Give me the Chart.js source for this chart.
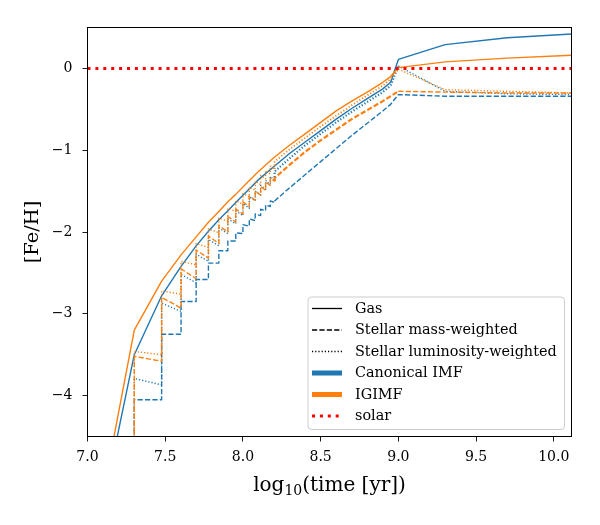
<!DOCTYPE html>
<html><head><meta charset="utf-8">
<script src="https://cdn.jsdelivr.net/npm/chart.js@4.4.1/dist/chart.umd.min.js"></script>
<style>html,body{margin:0;padding:0;background:#fff}canvas{display:block}</style>
</head><body>
<canvas id="c" width="600" height="525"></canvas>
<script>
// ---- axis ranges and ticks ----
const xRange = [7.0, 10.114];
const yRange = [-4.5, 0.5];
const xTicks = [7.0, 7.5, 8.0, 8.5, 9.0, 9.5, 10.0];
const yTicks = [-4, -3, -2, -1, 0];

// ---- gas metallicity ----
const gasTimes     = [7.0, 7.301, 7.477, 7.602, 7.699, 7.778, 7.845, 7.903, 7.954, 8.0, 8.1, 8.2, 8.3, 8.4, 8.5, 8.6, 8.7, 8.8, 8.9, 8.95, 9.0, 9.301, 9.7, 10.114];
const gasCanonical = [-6.25, -3.50, -2.78, -2.42, -2.17, -1.99, -1.85, -1.74, -1.64, -1.55, -1.36, -1.20, -1.04, -0.90, -0.76, -0.62, -0.49, -0.37, -0.25, -0.17, 0.11, 0.29, 0.375, 0.42];
const gasIGIMF     = [-6.2, -3.20, -2.60, -2.28, -2.06, -1.88, -1.75, -1.63, -1.54, -1.45, -1.26, -1.09, -0.94, -0.80, -0.66, -0.52, -0.40, -0.29, -0.17, -0.10, 0.01, 0.08, 0.125, 0.16];

// ---- stellar metallicity: early time steps (value at start and end of each step) ----
const stepTimes = [7.301, 7.477, 7.602, 7.699, 7.778, 7.845, 7.903, 7.954, 8.000, 8.041, 8.079, 8.114, 8.146, 8.176, 8.204];
const stellarFloor = -6.0;
const lateTimes = [8.204, 8.3, 8.4, 8.5, 8.6, 8.7, 8.8, 8.9, 8.95, 9.0, 9.301, 9.7, 10.114];

const massCanonicalStart = [-4.05, -3.25, -2.85, -2.58, -2.38, -2.23, -2.11, -2.01, -1.91, -1.84, -1.78, -1.72, -1.67, -1.62];
const massCanonicalEnd   = [-4.05, -3.25, -2.85, -2.58, -2.38, -2.23, -2.11, -2.02, -1.93, -1.86, -1.80, -1.74, -1.69, -1.64];
const massCanonicalLate  = [-1.62, -1.46, -1.30, -1.14, -0.98, -0.82, -0.67, -0.52, -0.44, -0.32, -0.34, -0.34, -0.34];

const lumCanonicalStart = [-3.79, -2.87, -2.52, -2.27, -2.09, -1.95, -1.84, -1.74, -1.65, -1.57, -1.50, -1.43, -1.37, -1.32];
const lumCanonicalEnd   = [-3.87, -2.97, -2.62, -2.36, -2.17, -2.02, -1.90, -1.80, -1.71, -1.62, -1.55, -1.48, -1.42, -1.37];
const lumCanonicalLate  = [-1.26, -1.10, -0.94, -0.80, -0.66, -0.53, -0.41, -0.29, -0.21, 0.03, -0.28, -0.31, -0.32];

const massIGIMFStart = [-3.52, -2.80, -2.45, -2.22, -2.05, -1.92, -1.81, -1.72, -1.63, -1.56, -1.50, -1.44, -1.39, -1.34];
const massIGIMFEnd   = [-3.58, -2.93, -2.57, -2.32, -2.14, -2.00, -1.88, -1.78, -1.69, -1.61, -1.55, -1.49, -1.43, -1.38];
const massIGIMFLate  = [-1.34, -1.18, -1.02, -0.88, -0.75, -0.62, -0.51, -0.40, -0.34, -0.28, -0.29, -0.30, -0.30];

const lumIGIMFStart = [-3.46, -2.72, -2.36, -2.14, -1.96, -1.83, -1.71, -1.62, -1.53, -1.45, -1.38, -1.31, -1.25, -1.19];
const lumIGIMFEnd   = [-3.50, -2.76, -2.40, -2.19, -2.01, -1.87, -1.75, -1.66, -1.57, -1.49, -1.42, -1.35, -1.29, -1.23];
const lumIGIMFLate  = [-1.14, -0.99, -0.85, -0.71, -0.58, -0.45, -0.33, -0.21, -0.13, -0.01, -0.26, -0.28, -0.30];

// ---- solar reference ----
const solarTimes  = [7.0, 10.114];
const solarValues = [0, 0];

// ---- legend ----
const legendLabels = ['Gas', 'Stellar mass-weighted', 'Stellar luminosity-weighted', 'Canonical IMF', 'IGIMF', 'solar'];

const BLUE = '#1f77b4', ORANGE = '#ff7f0e', RED = '#ff0000';
const FONT = "'DejaVu Serif', serif";
const LW = 1.4;
const DASH = [5.2, 2.2], DOT = [1.2, 2.0];

function pts(times, vals) { return times.map((t, i) => ({x: t, y: vals[i]})); }
function stellar(start, end, late) {
  const p = [{x: stepTimes[0], y: stellarFloor}];
  for (let k = 0; k < start.length; k++) {
    p.push({x: stepTimes[k], y: start[k]});
    p.push({x: stepTimes[k + 1], y: end[k]});
  }
  lateTimes.forEach((t, i) => p.push({x: t, y: late[i]}));
  return p;
}
// the dense, finely-stepped period (8.2 - 9.0) looks thicker in the reference
const denseStart = stepTimes[stepTimes.length - 1], denseEnd = 9.0;
function ds(label, data, color, dash, width, denseWidth) {
  const o = {label, data, borderColor: color, borderWidth: width || LW, borderDash: dash, pointRadius: 0, tension: 0, fill: false, borderCapStyle: 'butt', borderJoinStyle: 'round'};
  if (denseWidth) {
    o.segment = {borderWidth: c => (c.p0.parsed.x >= denseStart - 1e-6 && c.p1.parsed.x <= denseEnd + 1e-6) ? denseWidth : (width || LW)};
  }
  return o;
}

const datasets = [
  ds('solar', pts(solarTimes, solarValues), RED, [3, 4.9], 3),
  ds('IGIMF gas', pts(gasTimes, gasIGIMF), ORANGE, []),
  ds('IGIMF mass', stellar(massIGIMFStart, massIGIMFEnd, massIGIMFLate), ORANGE, DASH, LW, 2.2),
  ds('IGIMF lum', stellar(lumIGIMFStart, lumIGIMFEnd, lumIGIMFLate), ORANGE, DOT, LW, 1.8),
  ds('Canonical gas', pts(gasTimes, gasCanonical), BLUE, []),
  ds('Canonical mass', stellar(massCanonicalStart, massCanonicalEnd, massCanonicalLate), BLUE, DASH),
  ds('Canonical lum', stellar(lumCanonicalStart, lumCanonicalEnd, lumCanonicalLate), BLUE, DOT, LW, 2.2),
];

const legendStyles = [
  {color: '#000', width: 1.3, dash: []},
  {color: '#000', width: 1.3, dash: [5.2, 2.2]},
  {color: '#000', width: 1.3, dash: [1.2, 2.0]},
  {color: BLUE, width: 5, dash: []},
  {color: ORANGE, width: 5, dash: []},
  {color: RED, width: 3, dash: [3, 4.9]},
];

const framePlugin = {
  id: 'frame',
  afterDatasetsDraw(chart) {
    const {ctx, chartArea: a} = chart;
    ctx.save();
    // legend
    const lx = 308, ly = 297, lw = 256.5, lh = 132.5, r = 3.5;
    ctx.beginPath();
    ctx.moveTo(lx + r, ly);
    ctx.arcTo(lx + lw, ly, lx + lw, ly + lh, r);
    ctx.arcTo(lx + lw, ly + lh, lx, ly + lh, r);
    ctx.arcTo(lx, ly + lh, lx, ly, r);
    ctx.arcTo(lx, ly, lx + lw, ly, r);
    ctx.closePath();
    ctx.fillStyle = 'rgba(255,255,255,0.8)';
    ctx.fill();
    ctx.strokeStyle = '#cccccc';
    ctx.lineWidth = 1;
    ctx.stroke();
    ctx.font = '14.4px ' + FONT;
    ctx.textBaseline = 'middle';
    ctx.fillStyle = '#000';
    legendLabels.forEach((lab, i) => {
      const y = 308.5 + i * 21.5;
      const st = legendStyles[i];
      ctx.beginPath();
      ctx.setLineDash(st.dash);
      ctx.lineWidth = st.width;
      ctx.strokeStyle = st.color;
      ctx.lineCap = 'butt';
      ctx.moveTo(312, y);
      ctx.lineTo(342, y);
      ctx.stroke();
      ctx.setLineDash([]);
      ctx.fillText(lab, 355, y + 0.5);
    });
    // frame
    ctx.strokeStyle = '#000';
    ctx.lineWidth = 1;
    ctx.setLineDash([]);
    ctx.strokeRect(a.left, a.top, a.right - a.left, a.bottom - a.top);
    // x title with subscript
    const cx = (a.left + a.right) / 2, by = 491;
    const big = '20px ' + FONT, small = '14px ' + FONT;
    ctx.textBaseline = 'alphabetic';
    ctx.font = big; const w1 = ctx.measureText('log').width; const w3 = ctx.measureText('(time [yr])').width;
    ctx.font = small; const w2 = ctx.measureText('10').width;
    let x0 = cx - (w1 + w2 + w3) / 2;
    ctx.textAlign = 'left';
    ctx.font = big; ctx.fillText('log', x0, by);
    ctx.font = small; ctx.fillText('10', x0 + w1, by + 4);
    ctx.font = big; ctx.fillText('(time [yr])', x0 + w1 + w2, by);
    ctx.restore();
  }
};

new Chart(document.getElementById('c'), {
  type: 'line',
  data: {datasets},
  options: {
    responsive: false,
    animation: false,
    devicePixelRatio: 1,
    layout: {padding: {left: 0, top: 27.5, right: 28.5, bottom: 0}},
    plugins: {legend: {display: false}, tooltip: {enabled: false}},
    scales: {
      x: {
        type: 'linear', min: xRange[0], max: xRange[1],
        afterBuildTicks: s => { s.ticks = xTicks.map(v => ({value: v})); },
        afterFit: s => { s.height = 88.5; },
        grid: {drawOnChartArea: false, drawTicks: true, tickLength: 5, tickColor: '#000', tickWidth: 0.9},
        border: {display: false},
        ticks: {font: {family: FONT, size: 14}, color: '#000', padding: 7, maxRotation: 0, autoSkip: false,
                callback: v => Number(v).toFixed(1)}
      },
      y: {
        type: 'linear', min: yRange[0], max: yRange[1],
        afterBuildTicks: s => { s.ticks = yTicks.map(v => ({value: v})); },
        afterFit: s => { s.width = 87.5; },
        grid: {drawOnChartArea: false, drawTicks: true, tickLength: 5, tickColor: '#000', tickWidth: 0.9},
        border: {display: false},
        ticks: {font: {family: FONT, size: 14}, color: '#000', padding: 10, autoSkip: false,
                callback: v => v < 0 ? '\u2212' + Math.abs(v) : String(v)},
        title: {display: true, text: '[Fe/H]', font: {family: FONT, size: 19.4}, color: '#000', padding: {top: 21, bottom: 0}}
      }
    }
  },
  plugins: [framePlugin]
});
</script>
</body></html>
